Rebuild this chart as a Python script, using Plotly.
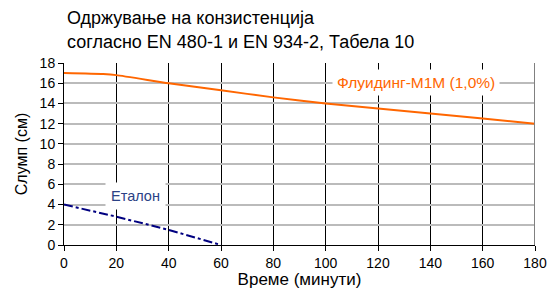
import plotly.graph_objects as go

time_fl = [0, 15, 20, 40, 60, 80, 100, 120, 140, 160, 180]
slump_fl = [17.0, 16.9, 16.8, 16.0, 15.3, 14.6, 14.0, 13.5, 13.0, 12.5, 12.0]
time_et = [0, 20, 40, 60]
slump_et = [4.0, 2.8, 1.5, 0.0]
title_lines = ["Одржување на конзистенција", "согласно EN 480-1 и EN 934-2, Табела 10"]

font = "Liberation Sans, Arial, sans-serif"
fig = go.Figure()
fig.add_trace(go.Scatter(x=time_fl, y=slump_fl, mode="lines", line=dict(color="#FF6600", width=2, shape="spline", smoothing=0.5), showlegend=False))
fig.add_trace(go.Scatter(x=time_et, y=slump_et, mode="lines", line=dict(color="#000080", width=2, dash="dashdot"), showlegend=False))

fig.add_annotation(x=27.5, y=4.85, text="Еталон", showarrow=False, bgcolor="white", font=dict(family=font, size=14.5, color="#2B4285"), borderpad=5)
fig.add_annotation(x=134.5, y=16.1, text="Флуидинг-M1M (1,0%)", showarrow=False, bgcolor="white", font=dict(family=font, size=15.5, color="#FF6600"), borderpad=4)
for i, (t, yy) in enumerate(zip(title_lines, [1.25, 1.115])):
    fig.add_annotation(xref="paper", yref="paper", x=0.002, y=yy, xanchor="left", yanchor="middle", text=t,
                       showarrow=False, font=dict(family=font, size=18, color="black"))

fig.update_layout(
    width=549, height=289,
    margin=dict(l=64, r=14, t=63, b=44, autoexpand=False),
    paper_bgcolor="white", plot_bgcolor="white",
    font=dict(family=font, color="black"),
    xaxis=dict(range=[0, 180], tickvals=list(range(0, 181, 20)), showgrid=True, gridcolor="black", gridwidth=1,
               showline=True, linecolor="black", ticks="outside", ticklen=5, tickcolor="black", automargin=False,
               tickfont=dict(size=14), title=dict(text="Време (минути)", font=dict(size=17), standoff=0), zeroline=False),
    yaxis=dict(range=[0, 18], tickvals=list(range(0, 19, 2)), showgrid=True, gridcolor="#BBBBBB", gridwidth=1.5,
               showline=True, linecolor="black", ticks="outside", ticklen=5, tickcolor="black", automargin=False,
               tickfont=dict(size=14), title=dict(text="Слумп (cм)", font=dict(size=16), standoff=8), zeroline=False),
)
fig.add_shape(type="line", xref="x", yref="paper", x0=180, x1=180, y0=0, y1=1, line=dict(color="#808080", width=2))
fig.write_html("out.html", config={"displayModeBar": False},
               post_script="document.body.style.margin='0';document.body.style.overflow='hidden';")
